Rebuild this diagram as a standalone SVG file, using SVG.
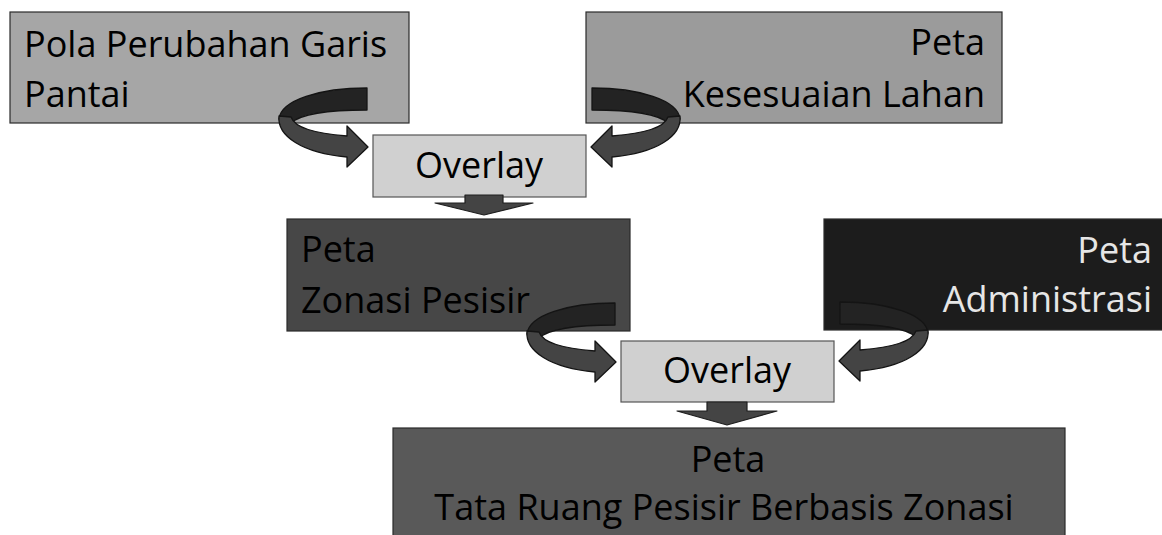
<svg xmlns="http://www.w3.org/2000/svg" xmlns:xlink="http://www.w3.org/1999/xlink" width="1162" height="535" viewBox="0 0 1162 535">
  <style>
    .box { stroke: #2b2b2b; stroke-width: 1.2; }
    .ov { fill: #d0d0d0; stroke: #555555; stroke-width: 1.2; }
    .t { font-family: "Open Sans", Lato, "Liberation Sans", sans-serif; font-size: 36px; fill: #000000; }
    .tw { fill: #e6e6e6; }
    .back { fill: #232323; stroke: #141414; stroke-width: 1.3; stroke-linejoin: round; }
    .front { fill: #444444; stroke: #141414; stroke-width: 1.3; stroke-linejoin: round; }
    .down { fill: #444444; stroke: #1e1e1e; stroke-width: 1.2; stroke-linejoin: round; }
  </style>
  <defs>
    <g id="curl">
      <path class="back" d="M 367 88 L 367 110 C 330 110 302 113 291 123 L 279 119 C 281 100 320 88 367 88 Z"/>
      <path class="front" d="M 279 116 C 277 136 302 153 347 157 L 347 167 L 368 147 L 347 126 L 347 136 C 314 133 295 128 291 117 Z"/>
    </g>
  </defs>

  <g id="node-pola">
    <rect class="box" x="10" y="12" width="399" height="111" fill="#a6a6a6"/>
    <text class="t" x="24" y="57">Pola Perubahan Garis</text>
    <text class="t" x="24" y="107">Pantai</text>
  </g>
  <g id="node-kesesuaian">
    <rect class="box" x="586" y="12" width="416" height="111" fill="#9b9b9b"/>
    <text class="t" x="985" y="55" text-anchor="end">Peta</text>
    <text class="t" x="985" y="107" text-anchor="end">Kesesuaian Lahan</text>
  </g>
  <g id="node-overlay1">
    <rect class="ov" x="373" y="135" width="213" height="62"/>
    <text class="t" x="479" y="178" text-anchor="middle">Overlay</text>
  </g>
  <g id="node-zonasi">
    <rect class="box" x="287" y="219" width="343" height="112" fill="#474747"/>
    <text class="t" x="301" y="262">Peta</text>
    <text class="t" x="301" y="313">Zonasi Pesisir</text>
  </g>
  <g id="node-administrasi">
    <rect class="box" x="824" y="219" width="340" height="111" fill="#1c1c1c"/>
    <text class="t tw" x="1152" y="263" text-anchor="end">Peta</text>
    <text class="t tw" x="1152" y="312" text-anchor="end">Administrasi</text>
  </g>
  <g id="node-overlay2">
    <rect class="ov" x="621" y="341" width="213" height="61"/>
    <text class="t" x="727" y="383" text-anchor="middle">Overlay</text>
  </g>
  <g id="node-tataruang">
    <rect class="box" x="393" y="428" width="672" height="130" fill="#595959"/>
    <text class="t" x="728" y="472" text-anchor="middle">Peta</text>
    <text class="t" x="724" y="520" text-anchor="middle">Tata Ruang Pesisir Berbasis Zonasi</text>
  </g>

  <g id="connectors">
    <use xlink:href="#curl"/>
    <use xlink:href="#curl" transform="translate(959,0) scale(-1,1)"/>
    <use xlink:href="#curl" transform="translate(248,215)"/>
    <use xlink:href="#curl" transform="translate(1207,214) scale(-1,1)"/>
    <path class="down" d="M 465 195 H 503 V 203 H 533 L 484 215 L 435 203 H 465 Z"/>
    <path class="down" d="M 707 402 H 747 V 411 H 777 L 727 425 L 677 411 H 707 Z"/>
  </g>
</svg>
